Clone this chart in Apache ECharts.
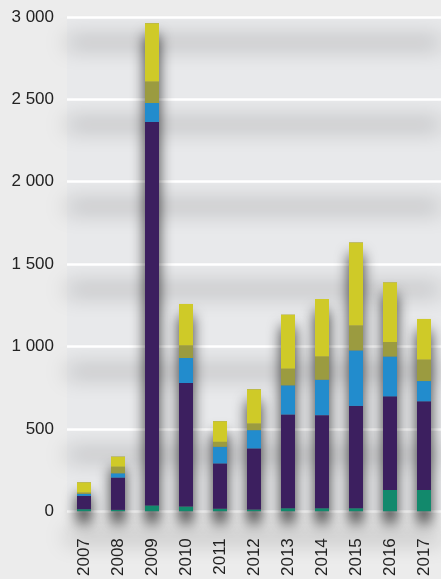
<!DOCTYPE html>
<html>
<head>
<meta charset="utf-8">
<script src="https://cdn.jsdelivr.net/npm/echarts@6/dist/echarts.min.js"></script>
<style>
    html, body { margin: 0; padding: 0; background: #ececec; }
    #chart { width: 441px; height: 579px; }
</style>
</head>
<body>
<div id="chart"></div>
<script>
(function () {
    'use strict';

    var years = ['2007', '2008', '2009', '2010', '2011', '2012', '2013', '2014', '2015', '2016', '2017'];

    // Stacked layers, bottom to top
    var green  = [12, 8, 35, 28, 15, 10, 18, 18, 18, 129, 129];
    var purple = [81, 196, 2328, 750, 275, 371, 569, 565, 621, 568, 538];
    var blue   = [12, 26, 115, 152, 101, 111, 177, 215, 337, 242, 123];
    var olive  = [8, 40, 130, 76, 30, 40, 101, 141, 151, 88, 130];
    var yellow = [62, 61, 354, 252, 125, 208, 328, 349, 504, 362, 247];

    var yTicks = [0, 500, 1000, 1500, 2000, 2500, 3000];

    var COLORS = {
        green: '#12896c',
        purple: '#3c1f5f',
        blue: '#228ccd',
        olive: '#9b9b40',
        yellow: '#cfca28'
    };

    var totals = years.map(function (y, i) {
        return green[i] + purple[i] + blue[i] + olive[i] + yellow[i];
    });

    function fmt(v) {
        if (v < 1000) return String(v);
        var r = String(v % 1000);
        while (r.length < 3) r = '0' + r;
        return Math.floor(v / 1000) + ' ' + r;
    }

    function layer(name, data, color) {
        return {
            name: name, type: 'bar', stack: 'all', data: data,
            barWidth: 14, z: 3,
            itemStyle: { color: color }
        };
    }

    var chart = echarts.init(document.getElementById('chart'));
    chart.setOption({
        animation: false,
        backgroundColor: '#ececec',
        textStyle: { fontFamily: 'Liberation Sans' },
        grid: {
            left: 67, right: 0, top: 17, bottom: 66,
            show: true, backgroundColor: '#e8e9eb', borderWidth: 0
        },
        xAxis: {
            type: 'category', data: years,
            axisLine: { show: false },
            axisTick: { show: false },
            axisLabel: {
                rotate: 90, margin: 27, fontSize: 17, color: '#222',
                fontFamily: 'Liberation Sans'
            }
        },
        yAxis: {
            type: 'value', min: yTicks[0], max: yTicks[yTicks.length - 1], interval: 500,
            axisLine: { show: false },
            axisTick: { show: false },
            axisLabel: {
                margin: 13, fontSize: 17, color: '#222',
                fontFamily: 'Liberation Sans', formatter: fmt
            },
            splitLine: {
                lineStyle: {
                    color: '#ffffff', width: 2.5,
                    shadowColor: 'rgba(0,0,0,1)', shadowBlur: 22, shadowOffsetY: 25
                }
            }
        },
        series: [
            {
                name: 'shadow', type: 'bar', data: totals,
                barWidth: 14, barGap: '-100%', z: 2,
                itemStyle: {
                    color: '#7a7a7c',
                    shadowColor: 'rgba(0,0,0,0.75)', shadowBlur: 14, shadowOffsetY: 12
                }
            },
            layer('green', green, COLORS.green),
            layer('purple', purple, COLORS.purple),
            layer('blue', blue, COLORS.blue),
            layer('olive', olive, COLORS.olive),
            layer('yellow', yellow, COLORS.yellow)
        ]
    });
})();
</script>
</body>
</html>
